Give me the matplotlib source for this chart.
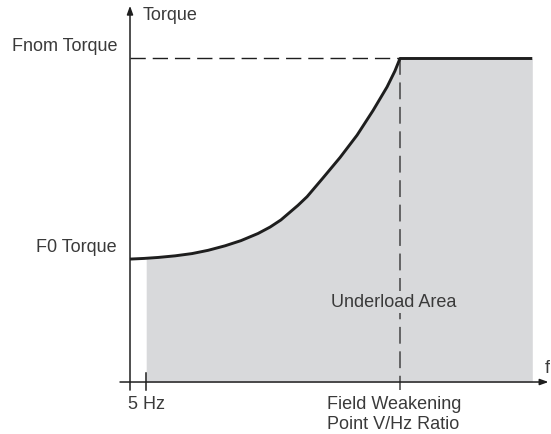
import numpy as np
import matplotlib
matplotlib.use("Agg")
import matplotlib.pyplot as plt

# Normalised frequency (0 = origin, 1 = field weakening point) and torque (1 = nominal)
freq_curve = [0.000, 0.052, 0.104, 0.167, 0.230, 0.289, 0.352, 0.411, 0.474, 0.519,
              0.559, 0.622, 0.656, 0.715, 0.778, 0.841, 0.900, 0.952, 0.981, 1.000]
torque_curve = [0.380, 0.382, 0.385, 0.390, 0.397, 0.407, 0.421, 0.437, 0.459, 0.479,
                0.501, 0.546, 0.573, 0.631, 0.694, 0.763, 0.839, 0.912, 0.961, 1.000]

f_5hz = 0.06          # 5 Hz tick position
f_weak = 1.0          # field weakening point
f_end = 1.49          # end of the constant-torque region
t_nom = 1.0           # nominal torque
t_f0 = 0.38           # torque at zero frequency

y_labels = ["Fnom Torque", "F0 Torque"]
x_labels = ["5 Hz", "Field Weakening\nPoint V/Hz Ratio"]

plt.rcParams['font.family'] = ['Liberation Sans', 'DejaVu Sans']

fig = plt.figure(figsize=(5.51, 4.34), dpi=100)
ax = fig.add_axes([0, 0, 1, 1])
ax.set_xlim(-0.4815, 1.5593)
ax.set_ylim(-0.1607, 1.1808)
ax.axis('off')

ink = '#1e1e1e'
txt = '#3a3a3a'
gray = '#d8d9db'

# shaded underload area
fx = np.array([f_5hz] + [f for f in freq_curve if f > f_5hz] + [f_end])
fy = np.array([np.interp(f_5hz, freq_curve, torque_curve)] +
              [t for f, t in zip(freq_curve, torque_curve) if f > f_5hz] + [t_nom])
ax.fill_between(fx, 0, fy, color=gray, lw=0, zorder=1)

# torque curve and constant-torque region
ax.plot(list(freq_curve) + [f_end], list(torque_curve) + [t_nom],
        color=ink, lw=2.1, solid_capstyle='butt', solid_joinstyle='round', zorder=4)

# dashed guides
ax.plot([0, f_weak], [t_nom, t_nom], color=ink, lw=1.0, dashes=(11, 5), zorder=3)
ax.plot([f_weak, f_weak], [t_nom, -0.025], color='#444444', lw=1.1, dashes=(11, 5), zorder=3)

# axes with arrows
ax.annotate('', xy=(0, 1.163), xytext=(0, -0.025),
            arrowprops=dict(arrowstyle='-|>,head_length=0.5,head_width=0.18',
                            color=ink, lw=1.1, shrinkA=0, shrinkB=0), zorder=5)
ax.annotate('', xy=(1.55, 0), xytext=(-0.037, 0),
            arrowprops=dict(arrowstyle='-|>,head_length=0.5,head_width=0.18',
                            color=ink, lw=1.1, shrinkA=0, shrinkB=0), zorder=5)

# 5 Hz tick
ax.plot([f_5hz, f_5hz], [0.028, -0.025], color=ink, lw=1.1, zorder=5)

fs = 13
ax.text(0.045, 1.133, "Torque", fontsize=fs, color=txt, ha='left', va='center')
ax.text(1.535, 0.043, "f", fontsize=fs, color=txt, ha='left', va='center')
ax.text(-0.048, t_nom + 0.036, y_labels[0], fontsize=fs, color=txt, ha='right', va='center')
ax.text(-0.048, t_f0 + 0.037, y_labels[1], fontsize=fs, color=txt, ha='right', va='center')
ax.text(f_5hz, -0.07, x_labels[0], fontsize=fs, color=txt, ha='center', va='center')
ax.text(0.729, -0.1005, x_labels[1], fontsize=fs, color=txt, ha='left', va='center',
        linespacing=1.2)
ax.text(0.975, 0.247, "Underload Area", fontsize=fs, color=txt, ha='center', va='center',
        bbox=dict(facecolor=gray, edgecolor='none', pad=1.5), zorder=6)

fig.savefig("out.png", dpi=100)
